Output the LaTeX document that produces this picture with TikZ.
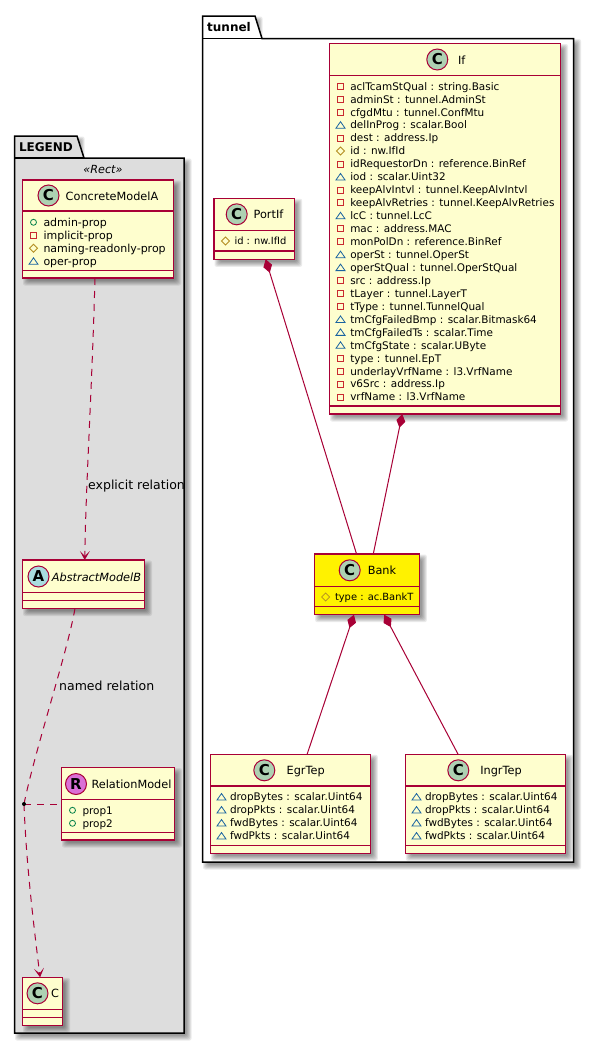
\documentclass[tikz,border=0pt]{standalone}
\usepackage{fontspec}
\setmainfont{DejaVu Sans}
\usetikzlibrary{arrows.meta,calc}
\definecolor{umlred}{HTML}{A80036}
\definecolor{umlfill}{HTML}{FEFECE}
\definecolor{spotC}{HTML}{ADD1B2}
\definecolor{spotA}{HTML}{A9DCDF}
\definecolor{spotR}{HTML}{DA70D6}
\definecolor{pubc}{HTML}{038048}
\definecolor{pric}{HTML}{C82930}
\definecolor{proc}{HTML}{B38D22}
\definecolor{pkgc}{HTML}{1963A0}
\definecolor{legendbg}{HTML}{DDDDDD}
\newcounter{nn}
\newcommand\attrfont{\fontsize{10.45}{12}\selectfont}
\newcommand\legattrfont{\fontsize{11}{12}\selectfont}
\newcommand\shortfont{\fontsize{9.9}{12}\selectfont}
\newcommand\namefont{\fontsize{11.3}{13}\selectfont}
\newcommand\labelfont{\fontsize{12.5}{14}\selectfont}
\tikzset{x=1pt,y=-1pt,
 boxnode/.style={draw=umlred,line width=1.4pt,inner sep=0pt,outer sep=0pt,rectangle},
 divider/.style={draw=umlred,line width=1.4pt},
 attrtext/.style={font=\attrfont,anchor=base west,inner sep=0pt,outer sep=0pt,text=black},
 nametext/.style={font=\namefont,anchor=base,inner sep=0pt,outer sep=0pt,text=black},
 spot/.style={circle,draw=umlred,line width=1pt,minimum size=21pt,inner sep=0pt,outer sep=0pt,font=\bfseries\fontsize{15}{15}\selectfont},
 rel/.style={draw=umlred,line width=1pt},
 reldash/.style={rel,dash pattern=on 7pt off 6pt},
 openarrow/.style={-{Stealth[length=9pt,width=10pt,inset=5pt,color=umlred,fill=umlred]}},
 comp/.style={{Diamond[length=14pt,width=9pt,color=umlred,fill=umlred]}-},
 pkgline/.style={draw=black,line width=1.5pt},
}
\newcommand\softshadow[4]{%
 \foreach \e in {3.5,2.5,1.5,0.5,-0.5,-1.5}{%
  \fill[black,opacity=.08,rounded corners=2pt] ({#1+4-\e},{#2+4-\e}) rectangle ({#3+4+\e},{#4+4+\e});}}
\newcommand\umlbox[6]{\softshadow{#2}{#3}{#4}{#5}%
 \node[boxnode,fill=#6,minimum width={(#4-#2)*1pt},minimum height={(#5-#3)*1pt}] (#1) at ({(#2+#4)/2},{(#3+#5)/2}) {};}
\newcommand\dv[2]{\draw[divider] (#1.west |- 0,#2) -- (#1.east |- 0,#2);}
\newcommand\iconv[2]{\draw[pubc,line width=.8pt] (#1,#2) circle (3);}
\newcommand\iconm[2]{\draw[pric,line width=.8pt] ({#1-3},{#2-3}) rectangle ({#1+3},{#2+3});}
\newcommand\iconh[2]{\draw[proc,line width=.8pt] ({#1-4},#2) -- (#1,{#2-4}) -- ({#1+4},#2) -- (#1,{#2+4}) -- cycle;}
\newcommand\icont[2]{\draw[pkgc,line width=.8pt] ({#1-4.5},{#2+3}) -- (#1,{#2-3.5}) -- ({#1+4.5},{#2+3}) -- cycle;}
\newcommand\attr[5]{% kind, icon x, text x, y, text
 \stepcounter{nn}\csname icon#1\endcsname{#2}{#4}%
 \node[attrtext] (attr\thenn) at (#3,{#4+3.8}) {#5};}
\begin{document}
\begin{tikzpicture}
\useasboundingbox (0,0) rectangle (594,1044);
\fill[white] (0,0) rectangle (594,1044);
% LEGEND package
\softshadow{14.5}{158}{184}{1033}
\softshadow{14.5}{136}{77}{158}
\filldraw[pkgline,fill=legendbg] (14.5,158) -- (14.5,136) -- (77,136) -- (84,158) -- (184,158) -- (184,1033) -- (14.5,1033) -- cycle;
\draw[pkgline] (14.5,158) -- (84,158);
\node[font=\bfseries\fontsize{12}{13}\selectfont,anchor=base,inner sep=0pt] (legendtitle) at (46,151.5) {LEGEND};
\node[font=\itshape\fontsize{11.2}{13}\selectfont,anchor=base,inner sep=0pt] (legendst) at (103,173) {«Rect»};
% tunnel package
\softshadow{202.5}{38.5}{573.5}{862}
\softshadow{202.5}{16}{255}{38.5}
\filldraw[pkgline,fill=white] (202.5,38.5) -- (202.5,16) -- (255,16) -- (262,38.5) -- (573.5,38.5) -- (573.5,862) -- (202.5,862) -- cycle;
\draw[pkgline] (202.5,38.5) -- (262,38.5);
\node[font=\bfseries\fontsize{12}{13}\selectfont,anchor=base,inner sep=0pt] (tunneltitle) at (229,31.5) {tunnel};
% ConcreteModelA
\umlbox{CM}{22.5}{180}{173.5}{278}{umlfill}
\dv{CM}{211}\dv{CM}{270.5}
\node[spot,fill=spotC] (CMs) at (48.5,195.5) {C};
\node[nametext] (CMn) at (112,200) {ConcreteModelA};
\attr{v}{33.5}{43.5}{222.3}{\legattrfont admin-prop}
\attr{m}{33.5}{43.5}{235.3}{\legattrfont implicit-prop}
\attr{h}{33.5}{43.5}{248.3}{\legattrfont naming-readonly-prop}
\attr{t}{33.5}{43.5}{261.3}{\legattrfont oper-prop}
% AbstractModelB
\umlbox{AM}{22.5}{560}{144.5}{608.5}{umlfill}
\dv{AM}{592.3}\dv{AM}{600.3}
\node[spot,fill=spotA] (AMs) at (38.5,576.5) {A};
\node[nametext,font=\itshape\namefont] (AMn) at (96.5,581) {AbstractModelB};
% RelationModel
\umlbox{RM}{61.5}{767.7}{174.5}{840}{umlfill}
\dv{RM}{799.7}\dv{RM}{832.3}
\node[spot,fill=spotR] (RMs) at (76,784) {R};
\node[nametext] (RMn) at (131.5,788.5) {RelationModel};
\attr{v}{72.5}{82.5}{810.3}{prop1}
\attr{v}{72.5}{82.5}{823.3}{prop2}
% C
\umlbox{CC}{22.5}{977.3}{62.5}{1025.3}{umlfill}
\dv{CC}{1009.7}\dv{CC}{1017.3}
\node[spot,fill=spotC] (CCs) at (37.5,993.3) {C};
\node[nametext] (CCn) at (55,997.8) {C};
% legend relations
\coordinate (agent) at (24,804);
\draw[reldash,openarrow] ($(CM.south west)!0.48!(CM.south east)$) .. controls (92,390) and (86,480) .. ($(AM.north west)!0.51!(AM.north east)$);
\draw[reldash] ($(AM.south west)!0.43!(AM.south east)$) .. controls (68,650) and (35,750) .. (agent);
\draw[reldash,openarrow] (agent) .. controls (26,860) and (33,920) .. ($(CC.north west)!0.44!(CC.north east)$);
\draw[reldash] (agent) -- (RM.west |- agent);
\fill (agent) circle (2);
\node[font=\labelfont,anchor=base west,inner sep=0pt] (l1) at (88,489.5) {explicit relation};
\node[font=\labelfont,anchor=base west,inner sep=0pt] (l2) at (59,690.5) {named relation};
% If
\umlbox{If}{329.5}{43.5}{560.5}{414}{umlfill}
\dv{If}{75.3}\dv{If}{406}
\node[spot,fill=spotC] (Ifs) at (437.3,59.5) {C};
\node[nametext] (Ifn) at (461.7,64) {If};
\foreach \k/\t [count=\i from 0] in {m/aclTcamStQual : string.Basic,m/adminSt : tunnel.AdminSt,m/cfgdMtu : tunnel.ConfMtu,t/delInProg : scalar.Bool,m/dest : address.Ip,h/id : nw.IfId,m/idRequestorDn : reference.BinRef,t/iod : scalar.Uint32,m/keepAlvIntvl : tunnel.KeepAlvIntvl,m/keepAlvRetries : tunnel.KeepAlvRetries,t/lcC : tunnel.LcC,m/mac : address.MAC,m/monPolDn : reference.BinRef,t/operSt : tunnel.OperSt,t/operStQual : tunnel.OperStQual,m/src : address.Ip,m/tLayer : tunnel.LayerT,m/tType : tunnel.TunnelQual,t/tmCfgFailedBmp : scalar.Bitmask64,t/tmCfgFailedTs : scalar.Time,t/tmCfgState : scalar.UByte,m/type : tunnel.EpT,m/underlayVrfName : l3.VrfName,m/v6Src : address.Ip,m/vrfName : l3.VrfName}{%
 \attr{\k}{340.5}{350.3}{86.3+12.95*\i}{\t}}
% PortIf
\umlbox{PI}{214}{198.3}{294.7}{259.3}{umlfill}
\dv{PI}{230.5}\dv{PI}{251}
\node[spot,fill=spotC] (PIs) at (236.7,214.3) {C};
\node[nametext] (PIn) at (268.5,218.8) {PortIf};
\attr{h}{225.5}{234.5}{241}{\shortfont id : nw.IfId}
% Bank
\umlbox{BK}{314.7}{554}{419.3}{614.7}{yellow}
\dv{BK}{586.7}\dv{BK}{606.7}
\node[spot,fill=spotC] (BKs) at (349.7,570.3) {C};
\node[nametext] (BKn) at (382,574.8) {Bank};
\attr{h}{325.6}{335}{597}{\shortfont type : ac.BankT}
% EgrTep
\umlbox{ET}{210.3}{754.3}{370.3}{853.3}{umlfill}
\dv{ET}{786}\dv{ET}{845.7}
\node[spot,fill=spotC] (ETs) at (264.3,770.3) {C};
\node[nametext] (ETn) at (305.7,774.8) {EgrTep};
\attr{t}{221.5}{230}{797}{dropBytes : scalar.Uint64}
\attr{t}{221.5}{230}{810}{dropPkts : scalar.Uint64}
\attr{t}{221.5}{230}{823}{fwdBytes : scalar.Uint64}
\attr{t}{221.5}{230}{836}{fwdPkts : scalar.Uint64}
% IngrTep
\umlbox{IT}{405.3}{754.3}{565.3}{853.3}{umlfill}
\dv{IT}{786}\dv{IT}{845.7}
\node[spot,fill=spotC] (ITs) at (458.3,770.3) {C};
\node[nametext] (ITn) at (501,774.8) {IngrTep};
\attr{t}{416.5}{425}{797}{dropBytes : scalar.Uint64}
\attr{t}{416.5}{425}{810}{dropPkts : scalar.Uint64}
\attr{t}{416.5}{425}{823}{fwdBytes : scalar.Uint64}
\attr{t}{416.5}{425}{836}{fwdPkts : scalar.Uint64}
% composition
\draw[rel,comp] ($(PI.south west)!0.64!(PI.south east)$) -- ($(BK.north west)!0.4!(BK.north east)$);
\draw[rel,comp] ($(If.south west)!0.315!(If.south east)$) -- ($(BK.north west)!0.56!(BK.north east)$);
\draw[rel,comp] ($(BK.south west)!0.375!(BK.south east)$) -- ($(ET.north west)!0.605!(ET.north east)$);
\draw[rel,comp] ($(BK.south west)!0.665!(BK.south east)$) -- ($(IT.north west)!0.33!(IT.north east)$);
\end{tikzpicture}
\end{document}
